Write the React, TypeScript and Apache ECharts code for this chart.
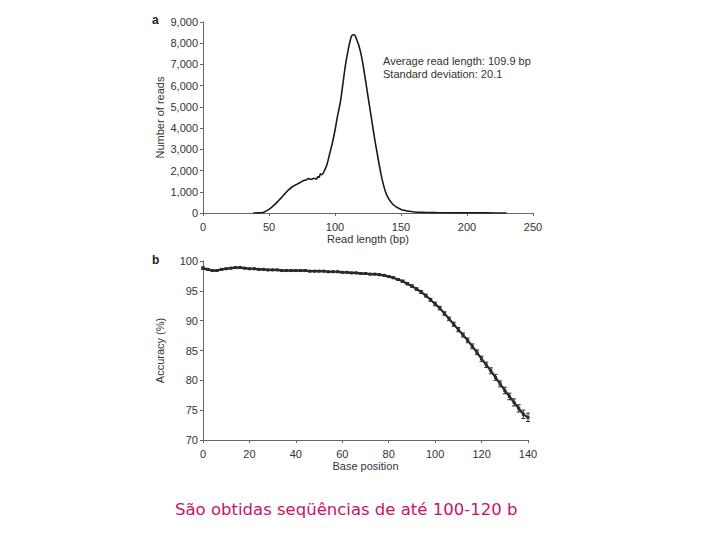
import React, { useEffect, useRef } from "react";
import * as echarts from "echarts";

// Panel a: read length histogram
const readLength = [38, 42, 46, 50, 53, 56, 59, 62, 65, 68, 71, 74, 76, 78, 80, 82, 84, 86, 87, 88, 89, 90, 92, 94, 96, 98, 100, 102, 104, 106, 108, 110, 112, 113, 114, 115, 116, 118, 120, 122, 124, 126, 128, 130, 132, 134, 136, 138, 140, 142, 144, 146, 148, 150, 153, 156, 160, 165, 170, 180, 190, 200, 215, 230];
const readCount = [0, 5, 40, 170, 320, 500, 700, 900, 1100, 1250, 1350, 1450, 1520, 1560, 1620, 1580, 1640, 1600, 1720, 1680, 1850, 1800, 2000, 2300, 2800, 3300, 3900, 4600, 5200, 6100, 7000, 7700, 8250, 8380, 8400, 8380, 8250, 7900, 7400, 6700, 5900, 5100, 4300, 3500, 2800, 2100, 1500, 1050, 750, 550, 400, 300, 230, 170, 120, 80, 50, 30, 20, 12, 8, 6, 4, 2];

// Panel b: accuracy by base position
const basePosition = [0, 2, 4, 6, 8, 10, 12, 14, 16, 18, 20, 22, 24, 26, 28, 30, 32, 34, 36, 38, 40, 42, 44, 46, 48, 50, 52, 54, 56, 58, 60, 62, 64, 66, 68, 70, 72, 74, 76, 78, 80, 82, 84, 86, 88, 90, 92, 94, 96, 98, 100, 102, 104, 106, 108, 110, 112, 114, 116, 118, 120, 122, 124, 126, 128, 130, 132, 134, 136, 138, 140];
const accuracy = [98.8, 98.6, 98.4, 98.4, 98.6, 98.7, 98.8, 98.9, 98.9, 98.8, 98.7, 98.7, 98.6, 98.6, 98.5, 98.5, 98.5, 98.4, 98.4, 98.4, 98.4, 98.4, 98.4, 98.3, 98.3, 98.3, 98.3, 98.2, 98.2, 98.2, 98.1, 98.1, 98.0, 98.0, 97.9, 97.9, 97.8, 97.8, 97.7, 97.6, 97.4, 97.2, 96.9, 96.6, 96.2, 95.8, 95.3, 94.8, 94.2, 93.5, 92.8, 92.1, 91.2, 90.3, 89.4, 88.5, 87.6, 86.7, 85.7, 84.7, 83.6, 82.6, 81.6, 80.5, 79.4, 78.3, 77.3, 76.3, 75.3, 74.3, 73.8];
const accuracyErr = [0.2, 0.1, 0.1, 0.1, 0.1, 0.1, 0.1, 0.1, 0.1, 0.1, 0.1, 0.1, 0.1, 0.1, 0.1, 0.1, 0.1, 0.1, 0.1, 0.1, 0.1, 0.1, 0.1, 0.1, 0.1, 0.1, 0.1, 0.1, 0.1, 0.1, 0.1, 0.1, 0.1, 0.1, 0.1, 0.1, 0.1, 0.1, 0.1, 0.1, 0.15, 0.15, 0.15, 0.2, 0.2, 0.2, 0.2, 0.25, 0.25, 0.25, 0.3, 0.3, 0.3, 0.3, 0.35, 0.35, 0.35, 0.4, 0.4, 0.4, 0.45, 0.45, 0.5, 0.5, 0.5, 0.55, 0.55, 0.6, 0.6, 0.7, 0.7];

const yTicksA = [0, 9000, 1000];
const xTicksA = [0, 250, 50];
const yTicksB = [70, 100, 5];
const xTicksB = [0, 140, 20];

const annotationLines = ["Average read length: 109.9 bp", "Standard deviation: 20.1"];
const caption = "São obtidas seqüências de até 100-120 b";

const FONT = "Liberation Sans, Arial, sans-serif";

export default function App() {
  const ref = useRef<HTMLDivElement>(null);
  useEffect(() => {
    if (!ref.current) return;
    const chart = echarts.init(ref.current, null, { renderer: "svg" });
    const axisCommon = {
      axisLine: { show: true, lineStyle: { color: "#666", width: 1 } },
      axisTick: { show: true, length: 3, lineStyle: { color: "#666" } },
      axisLabel: { color: "#333", fontSize: 11, fontFamily: FONT },
      splitLine: { show: false },
      nameTextStyle: { color: "#333", fontSize: 11, fontFamily: FONT },
    };
    const dataA = readLength.map((x, i) => [x, readCount[i]]);
    const dataB = basePosition.map((x, i) => [x, accuracy[i]]);
    const errB = basePosition.map((x, i) => [x, accuracy[i], accuracyErr[i]]);
    chart.setOption({
      animation: false,
      backgroundColor: "#fff",
      grid: [
        { left: 203, right: 187, top: 22, bottom: 327 },
        { left: 203, right: 192, top: 261, bottom: 100 },
      ],
      xAxis: [
        {
          ...axisCommon,
          gridIndex: 0,
          type: "value",
          min: xTicksA[0],
          max: xTicksA[1],
          interval: xTicksA[2],
          name: "Read length (bp)",
          nameLocation: "middle",
          nameGap: 20,
        },
        {
          ...axisCommon,
          gridIndex: 1,
          type: "value",
          min: xTicksB[0],
          max: xTicksB[1],
          interval: xTicksB[2],
          name: "Base position",
          nameLocation: "middle",
          nameGap: 20,
        },
      ],
      yAxis: [
        {
          ...axisCommon,
          gridIndex: 0,
          type: "value",
          min: yTicksA[0],
          max: yTicksA[1],
          interval: yTicksA[2],
          axisLabel: {
            ...axisCommon.axisLabel,
            margin: 5,
            formatter: (v: number) => v.toLocaleString("en-US"),
          },
          name: "Number of reads",
          nameLocation: "middle",
          nameGap: 38,
        },
        {
          ...axisCommon,
          gridIndex: 1,
          type: "value",
          min: yTicksB[0],
          max: yTicksB[1],
          interval: yTicksB[2],
          axisLabel: { ...axisCommon.axisLabel, margin: 5 },
          name: "Accuracy (%)",
          nameLocation: "middle",
          nameGap: 38,
        },
      ],
      series: [
        {
          type: "line",
          xAxisIndex: 0,
          yAxisIndex: 0,
          data: dataA,
          showSymbol: false,
          smooth: 0.3,
          lineStyle: { color: "#1a1a1a", width: 1.6 },
        },
        {
          type: "custom",
          xAxisIndex: 1,
          yAxisIndex: 1,
          data: errB,
          encode: { x: 0, y: 1 },
          renderItem: (params: any, api: any) => {
            const x = api.value(0);
            const y = api.value(1);
            const e = api.value(2);
            const top = api.coord([x, y + e]);
            const bot = api.coord([x, y - e]);
            const st = { stroke: "#333", lineWidth: 1 };
            return {
              type: "group",
              children: [
                { type: "line", shape: { x1: top[0], y1: top[1], x2: bot[0], y2: bot[1] }, style: st },
                { type: "line", shape: { x1: top[0] - 2, y1: top[1], x2: top[0] + 2, y2: top[1] }, style: st },
                { type: "line", shape: { x1: bot[0] - 2, y1: bot[1], x2: bot[0] + 2, y2: bot[1] }, style: st },
              ],
            };
          },
        },
        {
          type: "line",
          xAxisIndex: 1,
          yAxisIndex: 1,
          data: dataB,
          showSymbol: true,
          symbol: "rect",
          symbolSize: 3,
          itemStyle: { color: "#2a2a2a" },
          lineStyle: { color: "#2a2a2a", width: 2.2 },
        },
      ],
      graphic: [
        { type: "text", left: 152, top: 14, style: { text: "a", font: `bold 12px ${FONT}`, fill: "#222" } },
        { type: "text", left: 152, top: 254, style: { text: "b", font: `bold 12px ${FONT}`, fill: "#222" } },
        {
          type: "text",
          left: 383,
          top: 54,
          style: { text: annotationLines.join("\n"), font: `11px ${FONT}`, fill: "#333", lineHeight: 13 },
        },
        {
          type: "text",
          left: 175,
          top: 501,
          style: { text: caption, font: `16.5px "DejaVu Sans", sans-serif`, fill: "#cc1166" },
        },
      ],
    });
    return () => chart.dispose();
  }, []);
  return (
    <div
      ref={ref}
      style={{ position: "fixed", left: 0, top: 0, width: 720, height: 540, background: "#fff" }}
    />
  );
}
